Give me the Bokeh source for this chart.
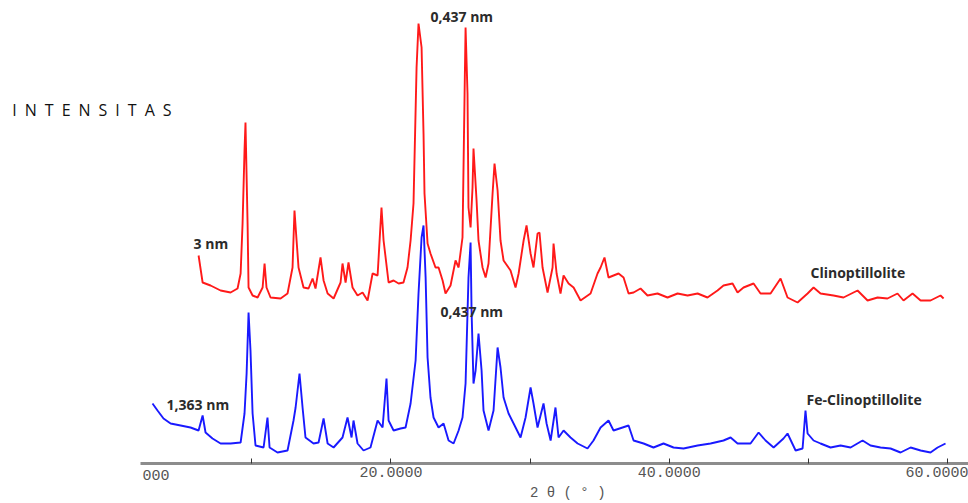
from bokeh.plotting import figure
from bokeh.models import Range1d, FixedTicker, Label
from bokeh.embed import file_html
from bokeh.resources import INLINE

# ---- data (2θ in degrees, intensity in arbitrary units) ----
red_theta = [6.18, 6.47, 7.04, 7.76, 8.48, 8.98, 9.20, 9.34, 9.48, 9.55, 9.70, 9.77, 10.06, 10.42, 10.78,
             10.92, 11.06, 11.35, 12.07, 12.57, 12.93, 13.07, 13.22, 13.36, 13.72, 14.08, 14.37, 14.58,
             14.94, 15.16, 15.45, 15.88, 16.38, 16.52, 16.74, 16.95, 17.24, 17.60, 17.96, 18.32, 18.68,
             19.04, 19.32, 19.47, 19.83, 20.19, 20.55, 20.90, 21.19, 21.41, 21.62, 21.84, 21.98, 22.20,
             22.34, 22.41, 22.63, 22.84, 23.20, 23.42, 23.71, 23.92, 24.28, 24.64, 24.86, 25.14, 25.29,
             25.36, 25.50, 25.57, 25.72, 25.86, 25.93, 26.15, 26.29, 26.58, 26.80, 27.01, 27.30, 27.44,
             27.66, 27.87, 28.09, 28.59, 28.95, 29.17, 29.53, 29.74, 30.03, 30.24, 30.53, 30.67, 30.89,
             31.25, 31.61, 31.68, 31.90, 32.18, 32.40, 32.76, 33.12, 33.62, 34.34, 34.84, 35.06, 35.34,
             35.63, 35.99, 36.35, 36.71, 37.07, 37.43, 37.93, 38.43, 39.15, 39.87, 40.59, 41.31, 42.03,
             42.74, 43.46, 43.89, 44.54, 44.90, 45.33, 46.05, 46.55, 47.27, 47.99, 48.49, 49.21, 49.93,
             50.36, 50.86, 51.79, 52.51, 53.52, 54.24, 54.96, 55.67, 56.39, 56.82, 57.47, 58.05, 58.76,
             59.48, 59.70]
red_int = [48, 21, 18, 13, 11, 15, 30, 80, 153, 181, 80, 16, 8, 6, 16,
           40, 16, 6, 5, 10, 36, 93, 63, 36, 16, 15, 25, 15,
           46, 23, 10, 5, 21, 40, 21, 41, 16, 8, 11, 3, 30,
           28, 96, 63, 21, 23, 20, 21, 36, 63, 100, 236, 280, 256,
           170, 110, 60, 50, 36, 36, 23, 10, 18, 43, 36, 66, 210,
           276, 210, 96, 76, 116, 155, 103, 63, 36, 26, 40, 110, 140,
           113, 63, 43, 33, 16, 30, 63, 78, 50, 36, 70, 71, 36,
           11, 36, 60, 30, 10, 28, 20, 16, 3, 10, 30, 36, 46,
           26, 28, 30, 26, 10, 11, 15, 8, 10, 6, 10, 8, 10,
           6, 13, 18, 20, 11, 16, 20, 10, 10, 25, 6, 1, 10,
           16, 10, 8, 6, 13, 3, 6, 5, 10, 3, 10, 3, 3,
           8, 5]
red_offset = 160

blue_theta = [2.87, 3.23, 3.66, 4.17, 4.89, 5.60, 6.18, 6.47, 6.68, 7.18, 7.76, 8.48, 9.20, 9.48, 9.63,
              9.77, 9.91, 10.06, 10.27, 10.85, 11.13, 11.28, 11.85, 12.57, 13.00, 13.15, 13.43, 13.65,
              13.86, 14.44, 14.80, 15.16, 15.45, 15.88, 16.52, 16.88, 17.17, 17.31, 17.60, 18.03, 18.53,
              19.04, 19.40, 19.68, 19.83, 20.19, 20.69, 21.05, 21.41, 21.77, 21.98, 22.20, 22.34, 22.49,
              22.63, 22.84, 23.06, 23.42, 23.78, 24.14, 24.50, 24.86, 25.14, 25.36, 25.57, 25.72, 25.79,
              25.93, 26.08, 26.29, 26.51, 26.65, 27.01, 27.37, 27.66, 27.87, 28.09, 28.45, 28.81, 29.31,
              29.67, 30.03, 30.24, 30.53, 30.96, 31.18, 31.47, 31.82, 32.04, 32.40, 32.90, 33.41, 34.12,
              34.55, 35.06, 35.63, 35.99, 36.64, 37.07, 37.43, 38.15, 38.86, 39.58, 40.30, 41.02, 42.03,
              42.96, 43.89, 44.40, 44.90, 45.83, 46.41, 46.91, 47.49, 48.20, 48.49, 49.07, 49.57, 49.78,
              49.93, 50.36, 50.86, 51.58, 52.30, 53.02, 53.88, 54.45, 55.17, 55.89, 56.61, 57.33, 58.05,
              58.76, 59.27, 59.84]
blue_int = [60, 53, 45, 40, 38, 36, 33, 48, 31, 25, 20, 20, 21, 50, 90,
            151, 113, 50, 18, 16, 46, 16, 11, 13, 43, 56, 90, 56,
            26, 20, 21, 45, 20, 16, 26, 46, 26, 43, 20, 13, 16,
            43, 36, 85, 43, 33, 35, 36, 60, 103, 170, 226, 238, 186,
            106, 66, 46, 36, 40, 23, 20, 33, 46, 80, 186, 221, 153,
            80, 93, 130, 93, 53, 33, 53, 116, 96, 66, 50, 40, 26,
            46, 76, 60, 36, 60, 40, 23, 56, 26, 33, 26, 20, 15,
            23, 36, 43, 33, 36, 38, 23, 20, 16, 20, 16, 15, 18,
            20, 23, 26, 20, 20, 31, 23, 16, 25, 30, 13, 15, 53,
            30, 23, 20, 16, 18, 16, 23, 18, 16, 15, 11, 16, 13,
            11, 16, 20]

x_label_ticks = [20, 40, 60]
x_mark_ticks = [10, 20, 30, 40, 50, 60]
x_labels = {20: "20.0000", 40: "40.0000", 60: "60.0000"}
axis_start = 2

annotations = [
    ("0,437 nm", 22.84, 447),
    ("3 nm", 5.82, 220),
    ("1,363 nm", 3.88, 59),
    ("0,437 nm", 23.56, 152),
    ("Clinoptillolite", 50.14, 191),
    ("Fe-Clinoptillolite", 49.86, 64),
]

p = figure(width=968, height=503, output_backend="svg", toolbar_location=None,
           x_range=Range1d(-8.05, 61.49), y_range=Range1d(-40, 463),
           y_axis_location=None,
           min_border_left=0, min_border_right=0, min_border_top=0, min_border_bottom=0)
p.outline_line_color = None
p.xgrid.visible = False
p.ygrid.visible = False
p.background_fill_color = "white"

red_y = [v + red_offset for v in red_int]
p.line(red_theta, red_y, line_color="#ff0000", line_width=1.9, line_alpha=0.9)
p.line(blue_theta, blue_int, line_color="#0000ff", line_width=1.9, line_alpha=0.9)

ax = p.xaxis[0]
ax.fixed_location = 0
ax.bounds = (axis_start, 61.49)
ax.ticker = FixedTicker(ticks=x_label_ticks, minor_ticks=x_mark_ticks)
ax.major_label_overrides = x_labels
ax.axis_line_color = "#8c8c8c"
ax.axis_line_width = 3
ax.major_tick_in = 0
ax.major_tick_out = 0
ax.minor_tick_in = 5
ax.minor_tick_out = 0
ax.minor_tick_line_color = "#333333"
ax.major_label_text_font = "Liberation Mono"
ax.major_label_text_font_size = "15px"
ax.major_label_text_color = "#555555"
ax.major_label_standoff = 3

for txt, x, y in annotations:
    p.add_layout(Label(x=x, y=y, text=txt, text_font="Open Sans", text_font_size="14px",
                       text_font_style="bold", text_color="#2b2b2b",
                       text_baseline="middle", text_align="left"))

p.add_layout(Label(x=2.15, y=-11, text="000", text_font="Liberation Mono", text_font_size="15px",
                   text_color="#555555", text_baseline="middle", text_align="left"))
p.add_layout(Label(x=32.7, y=-29, text="2 θ ( ° )", text_font="Liberation Mono", text_font_size="14px",
                   text_color="#555555", text_baseline="middle", text_align="center"))
p.add_layout(Label(x=-7.2, y=354, text="I\u2002N\u2002T\u2002E\u2002N\u2002S\u2002I\u2002T\u2002A\u2002S",
                   text_font="Open Sans", text_font_size="16px", text_color="#111111",
                   text_baseline="middle", text_align="left"))

open("out.html", "w").write(file_html(p, INLINE))
